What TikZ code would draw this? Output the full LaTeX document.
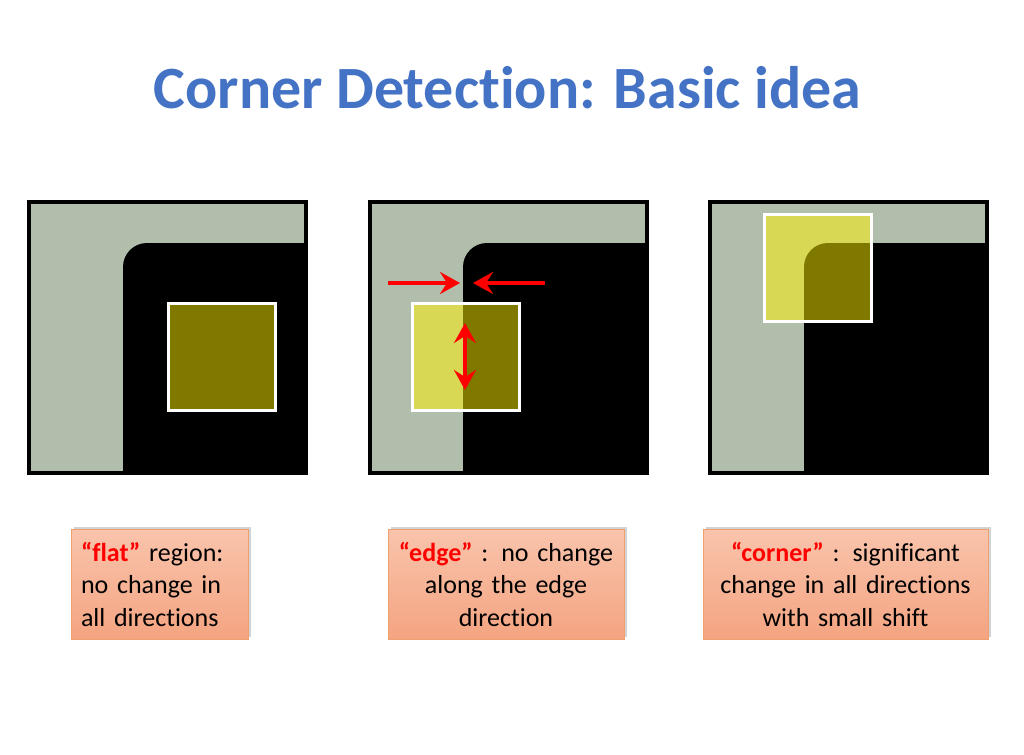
\documentclass[tikz,border=0pt]{standalone}
\usepackage{fontspec}
\setmainfont{Carlito}[Ligatures=NoCommon]
\usepackage{xcolor}
\usepackage{tikz}
\usetikzlibrary{arrows.meta,shadows}
\definecolor{TitleBlue}{HTML}{4472C4}
\definecolor{BgGray}{HTML}{B1BEAB}
\definecolor{BoxTop}{HTML}{F9C4AC}
\definecolor{BoxBottom}{HTML}{F4A481}
\definecolor{BoxEdge}{HTML}{EFA070}

\begin{document}
\begin{tikzpicture}[x=1pt, y=-1pt,
    >={Stealth[length=20pt,width=22pt,inset=7pt]},
    panel/.style={rectangle, draw=black, line width=4pt, fill=BgGray,
                  minimum width=277pt, minimum height=271pt, inner sep=0pt},
    window/.style={rectangle, draw=white, line width=3pt, fill=yellow, fill opacity=0.5,
                   minimum size=107pt, inner sep=0pt},
    red arrow/.style={red, line width=4pt},
    note/.style={rectangle, draw=BoxEdge, line width=0.8pt, top color=BoxTop, bottom color=BoxBottom,
                 drop shadow={shadow xshift=3pt, shadow yshift=2pt, opacity=0.35},
                 minimum height=110pt, inner xsep=10pt, font=\fontsize{26}{32.5}\selectfont}]
  \useasboundingbox (0,0) rectangle (1024,754);

  % title
  \node[font=\fontsize{60}{72}\selectfont\bfseries, TitleBlue, anchor=base] (title) at (507.5,109) {Corner Detection: Basic idea};

  % the three images
  \node[panel] (flat img) at (167.5,337.5) {};
  \node[panel] (edge img) at (508,337.5) {};
  \node[panel] (corner img) at (848.5,337.5) {};
  \fill[black] (123,471) -- (123,267) .. controls (123,253.7) and (133.7,243) .. (147,243) -- (305,243) -- (305,471) -- cycle;
  \fill[black] (463,471) -- (463,267) .. controls (463,253.7) and (473.7,243) .. (487,243) -- (646,243) -- (646,471) -- cycle;
  \fill[black] (804,471) -- (804,267) .. controls (804,253.7) and (814.7,243) .. (828,243) -- (986,243) -- (986,471) -- cycle;

  % shifting windows
  \node[window] (flat win) at (222,357) {};
  \node[window] (edge win) at (466,357) {};
  \node[window] (corner win) at (818,268) {};

  % shifts along / across the edge
  \coordinate (edge from l) at (388,283);
  \coordinate (edge hit l) at (460,283);
  \coordinate (edge from r) at (545,283);
  \coordinate (edge hit r) at (473,283);
  \coordinate (edge up) at (465,323);
  \coordinate (edge down) at (465,390);
  \draw[red arrow, ->] (edge from l) -- (edge hit l);
  \draw[red arrow, ->] (edge from r) -- (edge hit r);
  \draw[red arrow, <->] (edge up) -- (edge down);

  % captions
  \node[note, text width=157pt, align=left] (flat note) at (159.5,584)
    {\textcolor{red}{\textbf{“flat”}} region:\\no change in\\all directions};
  \node[note, text width=216pt, align=center] (edge note) at (506,584)
    {\textcolor{red}{\textbf{“edge”}} : no change\\along the edge\\direction};
  \node[note, text width=265pt, align=center] (corner note) at (845.5,584)
    {\textcolor{red}{\textbf{“corner”}} : significant\\change in all directions\\with small shift};
\end{tikzpicture}
\end{document}
